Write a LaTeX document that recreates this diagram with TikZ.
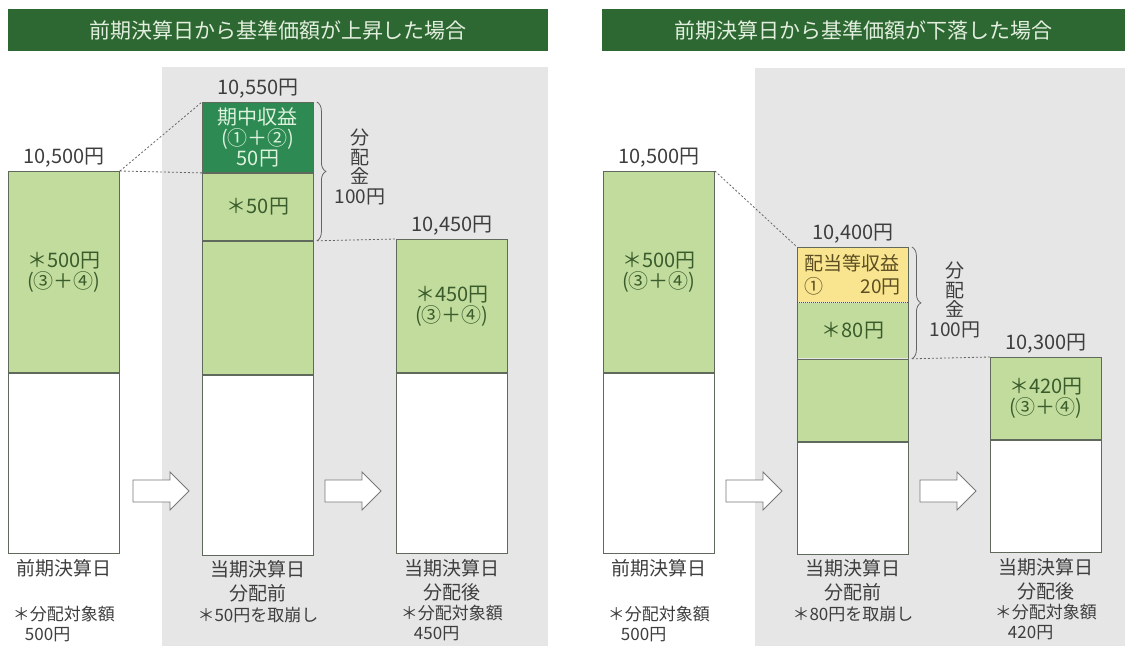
\documentclass[tikz,border=0pt]{standalone}
\usepackage{fontspec}
\setmainfont{Noto Sans CJK JP}
\usetikzlibrary{positioning, decorations.pathreplacing}

\definecolor{headgreen}{RGB}{45,104,50}
\definecolor{headtext}{RGB}{226,238,222}
\definecolor{paleleaf}{RGB}{193,220,157}
\definecolor{deepleaf}{RGB}{44,138,82}
\definecolor{deeptext}{RGB}{222,242,222}
\definecolor{cream}{RGB}{249,229,143}
\definecolor{panelgray}{RGB}{230,230,230}
\definecolor{barline}{RGB}{95,105,92}
\definecolor{inkgray}{RGB}{62,62,62}
\definecolor{leafink}{RGB}{58,92,44}
\definecolor{creamink}{RGB}{92,78,34}

\tikzset{
    header/.style={
        fill=headgreen, text=headtext, inner sep=0pt,
        minimum height=42pt, font=\fontsize{21}{23}\selectfont
    },
    seg/.style={
        draw=barline, line width=0.9pt, anchor=north west,
        minimum width=111pt, inner sep=0pt, align=center,
        font=\fontsize{20}{21}\selectfont
    },
    leafseg/.style={seg, fill=paleleaf, text=leafink},
    deepseg/.style={seg, fill=deepleaf, text=deeptext, font=\fontsize{20}{20.5}\selectfont},
    creamseg/.style={seg, draw=none, fill=cream, text=creamink, align=left,
        text width=96pt, font=\fontsize{19}{23}\selectfont},
    blankseg/.style={seg, fill=white},
    price/.style={font=\fontsize{20}{22}\selectfont, text=inkgray, inner sep=0pt},
    caption/.style={font=\fontsize{19}{24}\selectfont, text=inkgray, align=center, inner sep=0pt},
    note/.style={font=\fontsize{17}{20}\selectfont, text=inkgray, align=left, inner sep=0pt},
    bunpai/.style={font=\fontsize{19}{19.5}\selectfont, text=inkgray, align=center, inner sep=0pt},
    guide/.style={draw=inkgray!80, line width=0.8pt, dash pattern=on 2pt off 2pt},
    curly/.style={decorate, decoration={brace, amplitude=9pt}, draw=inkgray!80, line width=0.8pt},
    fatarrow/.pic={
        \draw[draw=inkgray!70, fill=white, line width=0.9pt]
            (0,-11) -- (37,-11) -- (37,-19) -- (56,0) -- (37,19) -- (37,11) -- (0,11) -- cycle;
    }
}

\begin{document}
\begin{tikzpicture}[x=1pt, y=-1pt]
\useasboundingbox (0,0) rectangle (1133,646);

% Grey backdrops
\fill[panelgray] (162,67) rectangle (548,646);
\fill[panelgray] (755,68) rectangle (1125,646);

% Headers
\node[header, minimum width=540pt] (l_head) at (278,30) {前期決算日から基準価額が上昇した場合};
\node[header, minimum width=523pt] (r_head) at (863.5,30) {前期決算日から基準価額が下落した場合};

%% ---------------- Rising case ----------------
% Previous closing day
\node[leafseg, minimum height=201pt] (l1_g) at (8,171) {＊500円\\(③＋④)};
\node[blankseg, minimum height=180pt, below=0pt of l1_g] (l1_w) {};

% Current closing day, before payout
\node[deepseg, minimum height=70pt] (l2_d) at (202,102) {期中収益\\(①＋②)\\50円};
\node[leafseg, minimum height=67pt, below=0pt of l2_d] (l2_s) {＊50円};
\node[leafseg, minimum height=133pt, below=0pt of l2_s] (l2_g) {};
\node[blankseg, minimum height=180pt, below=0pt of l2_g] (l2_w) {};

% Current closing day, after payout
\node[leafseg, minimum height=133pt] (l3_g) at (396,239) {＊450円\\(③＋④)};
\node[blankseg, minimum height=180pt, below=0pt of l3_g] (l3_w) {};

% Prices
\node[price, above=4pt of l1_g] (l1_p) {10,500円};
\node[price, above=4pt of l2_d] (l2_p) {10,550円};
\node[price, above=4pt of l3_g] (l3_p) {10,450円};

% Captions
\node[caption, below=5pt of l1_w] (l1_c) {前期決算日};
\node[note, below=29pt of l1_c] (l1_n) {＊分配対象額\\\hspace*{12pt}500円};
\node[caption, below=5pt of l2_w] (l2_c) {当期決算日\\分配前};
\node[note, below=4pt of l2_c] (l2_n) {＊50円を取崩し};
\node[caption, below=5pt of l3_w] (l3_c) {当期決算日\\分配後};
\node[note, below=4pt of l3_c] (l3_n) {＊分配対象額\\\hspace*{13pt}450円};

% Guides and payout brace
\draw[guide] (l1_g.north east) -- (l2_d.north west);
\draw[guide] (l1_g.north east) -- (l2_d.south west);
\coordinate (l_brtop) at ([xshift=3pt]l2_d.north east);
\coordinate (l_brbot) at ([xshift=3pt]l2_s.south east);
\draw[curly] (l_brtop) -- (l_brbot);
\draw[guide] (l_brbot) -- (l3_g.north west);
\node[bunpai] (l_pay) at (360,167) {分\\配\\金\\100円};

% Step arrows
\pic at (133,491) {fatarrow};
\pic at (325,491) {fatarrow};

%% ---------------- Falling case ----------------
% Previous closing day
\node[leafseg, minimum height=201pt] (r1_g) at (603,171) {＊500円\\(③＋④)};
\node[blankseg, minimum height=180pt, below=0pt of r1_g] (r1_w) {};

% Current closing day, before payout
\node[creamseg, minimum height=55pt] (r2_y) at (797,247) {配当等収益\\①\hfill 20円};
\node[leafseg, draw=none, minimum height=55pt, below=0pt of r2_y] (r2_s) {＊80円};
\node[leafseg, minimum height=82pt, below=0pt of r2_s] (r2_g) {};
\node[blankseg, minimum height=112pt, below=0pt of r2_g] (r2_w) {};
\draw[draw=barline, line width=0.9pt] (r2_s.south west) -- (r2_y.north west) -- (r2_y.north east) -- (r2_s.south east);
\draw[draw=leafink, line width=1pt, densely dotted] (r2_y.south west) -- (r2_y.south east);

% Current closing day, after payout
\node[leafseg, minimum height=82pt] (r3_g) at (990,357) {＊420円\\(③＋④)};
\node[blankseg, minimum height=112pt, below=0pt of r3_g] (r3_w) {};

% Prices
\node[price, above=4pt of r1_g] (r1_p) {10,500円};
\node[price, above=4pt of r2_y] (r2_p) {10,400円};
\node[price, above=4pt of r3_g] (r3_p) {10,300円};

% Captions
\node[caption, below=5pt of r1_w] (r1_c) {前期決算日};
\node[note, below=29pt of r1_c] (r1_n) {＊分配対象額\\\hspace*{13pt}500円};
\node[caption, below=5pt of r2_w] (r2_c) {当期決算日\\分配前};
\node[note, below=4pt of r2_c] (r2_n) {＊80円を取崩し};
\node[caption, below=5pt of r3_w] (r3_c) {当期決算日\\分配後};
\node[note, below=4pt of r3_c] (r3_n) {＊分配対象額\\\hspace*{13pt}420円};

% Guides and payout brace
\draw[guide] (r1_g.north east) -- (r2_y.north west);
\coordinate (r_brtop) at ([xshift=3pt]r2_y.north east);
\coordinate (r_brbot) at ([xshift=3pt]r2_s.south east);
\draw[curly] (r_brtop) -- (r_brbot);
\draw[guide] (r_brbot) -- (r3_g.north west);
\node[bunpai] (r_pay) at (955,300) {分\\配\\金\\100円};

% Step arrows
\pic at (726,491) {fatarrow};
\pic at (920,491) {fatarrow};

\end{tikzpicture}
\end{document}
